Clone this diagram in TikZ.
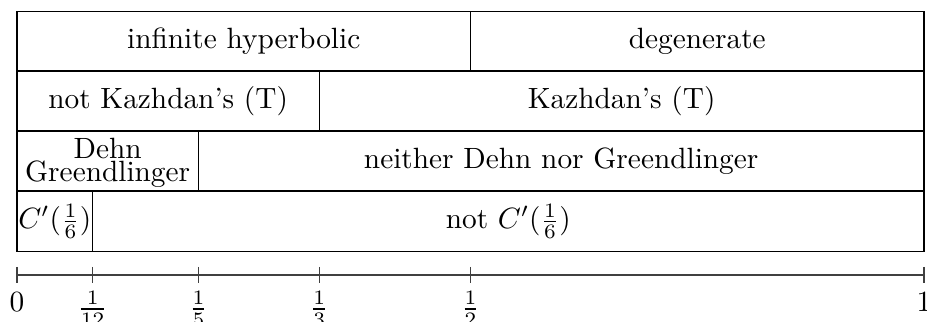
\documentclass[tikz,border=0pt]{standalone}
\usetikzlibrary{fit}
\tikzset{
  cell/.style={draw, inner sep=0pt, line width=0.45pt},
  celltext/.style={inner sep=0pt, anchor=base},
  tick/.style={line width=0.4pt, draw=black!75},
  ticklabel/.style={inner sep=0pt, anchor=center}
}
\begin{document}
\begin{tikzpicture}[x=0.341pt, y=-0.341pt]
\useasboundingbox (0,0) rectangle (927,322);
% row 1
\node[cell, fit={(17,11.5) (470.5,71)}] (ih) {};
\node[cell, fit={(470.5,11.5) (924,71)}] (dg) {};
% row 2
\node[cell, fit={(17,71) (319.3,131)}] (nk) {};
\node[cell, fit={(319.3,71) (924,131)}] (kt) {};
% row 3
\node[cell, fit={(17,131) (198.4,191)}] (dgr) {};
\node[cell, fit={(198.4,131) (924,191)}] (nd) {};
% row 4
\node[cell, fit={(17,191) (92.6,251.5)}] (cs) {};
\node[cell, fit={(92.6,191) (924,251.5)}] (ncs) {};
% texts
\node[celltext] (tih) at ([yshift=-2.5pt]ih.center) {infinite hyperbolic};
\node[celltext] (tdg) at ([yshift=-2.5pt]dg.center) {degenerate};
\node[celltext] (tnk) at ([yshift=-2.5pt]nk.center) {not Kazhdan's (T)};
\node[celltext] (tkt) at ([yshift=-2.5pt]kt.center) {Kazhdan's (T)};
\node[inner sep=0pt, align=center] (tdgr) at ([yshift=-0.7pt]dgr.center) {Dehn\\[-4pt]Greendlinger};
\node[celltext] (tnd) at ([yshift=-2.5pt]nd.center) {neither Dehn nor Greendlinger};
\node[celltext] (tcs) at ([yshift=-2.5pt]cs.center) {$C'(\frac{1}{6})$};
\node[celltext] (tncs) at ([yshift=-2.5pt]ncs.center) {not $C'(\frac{1}{6})$};
% axis
\coordinate (a0) at (17,275);
\coordinate (a1) at (924,275);
\draw[tick] (a0) -- (a1);
\foreach \xx/\nm in {17/t0, 92.6/t12, 198.4/t5, 319.3/t3, 470.5/t2, 924/t1}{
  \coordinate (\nm u) at (\xx,267);
  \coordinate (\nm d) at (\xx,283);
  \draw[tick] (\nm u) -- (\nm d);
}
\node[ticklabel] (l0) at (17,302) {$0$};
\node[ticklabel] (l1) at (924,302) {$1$};
\node[ticklabel] (l12) at (92.6,309) {$\frac{1}{12}$};
\node[ticklabel] (l5) at (198.4,309) {$\frac{1}{5}$};
\node[ticklabel] (l3) at (319.3,309) {$\frac{1}{3}$};
\node[ticklabel] (l2) at (470.5,309) {$\frac{1}{2}$};
\end{tikzpicture}
\end{document}
